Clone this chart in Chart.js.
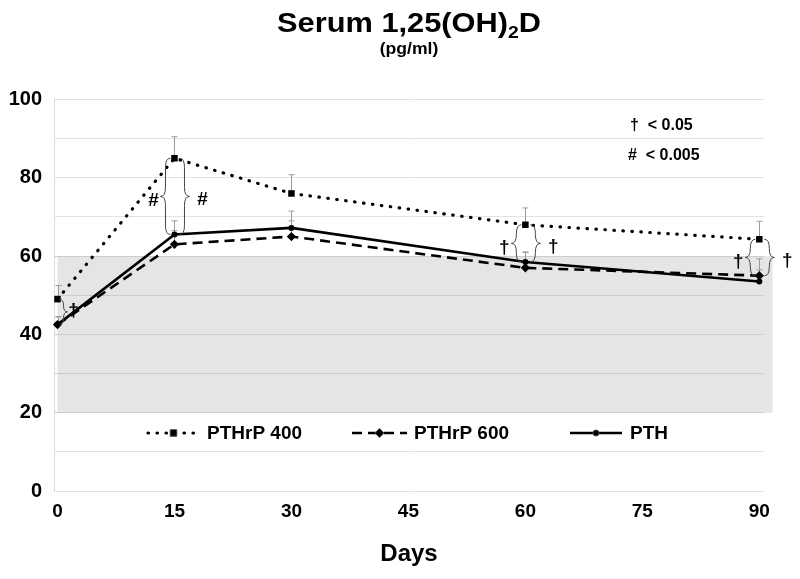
<!DOCTYPE html>
<html><head><meta charset="utf-8">
<script src="https://cdn.jsdelivr.net/npm/chart.js@4.4.1/dist/chart.umd.min.js"></script>
<style>html,body{margin:0;padding:0;background:#fff}canvas{display:block}</style>
</head><body>
<canvas id="c" width="800" height="579"></canvas>
<script>
// ---- data ----
const days = [0, 15, 30, 60, 90];
const pthrp400 = [49, 85, 76, 68, 64.3];
const pthrp600 = [42.5, 63, 65, 57, 55];
const pth = [42.5, 65.5, 67.2, 58.5, 53.5];
const err400 = [3.5, 5.5, 4.8, 4.3, 4.6];
const err600 = [2, 3.5, 4, 4, 4.3];
const errPth = [2, 3.5, 4.3, 2.5, 3];
const xTicks = [0, 15, 30, 45, 60, 75, 90];
const yTicks = [0, 10, 20, 30, 40, 50, 60, 70, 80, 90, 100];
const refRange = [20, 60];
const refDays = [0, 91.7];
const seriesNames = ['PTHrP 400', 'PTHrP 600', 'PTH'];
const sigDays = [0, 15, 60, 90];
const sigSymbols = ['†', '#', '†', '†'];
const sigLowerSeries = ['PTH', 'PTH', 'PTH', 'PTHrP 600'];
const pLabels = ['†  < 0.05', '#  < 0.005'];

const FONT = "'Liberation Sans', Arial, Helvetica, sans-serif";
const seriesValues = {'PTHrP 400': pthrp400, 'PTHrP 600': pthrp600, 'PTH': pth};
const seriesErr = {'PTHrP 400': err400, 'PTHrP 600': err600, 'PTH': errPth};
const toXY = arr => days.map((d, i) => ({x: d, y: arr[i]}));

const styles = {
  'PTHrP 400': {dash: [0.5, 8.5], width: 3.2, cap: 'round', point: 'rect', r: 4.6},
  'PTHrP 600': {dash: [10, 6], width: 2.6, cap: 'butt', point: 'rectRot', r: 4.6},
  'PTH': {dash: [], width: 2.6, cap: 'butt', point: 'circle', r: 3}
};

function brace(ctx, x, y1, y2, dir, w) {
  const ym = (y1 + y2) / 2, r = Math.min(w * 0.9, (y2 - y1) / 4);
  ctx.beginPath();
  ctx.moveTo(x - dir * w / 2, y1);
  ctx.quadraticCurveTo(x, y1, x, y1 + r);
  ctx.lineTo(x, ym - r);
  ctx.quadraticCurveTo(x, ym, x + dir * w / 2, ym);
  ctx.quadraticCurveTo(x, ym, x, ym + r);
  ctx.lineTo(x, y2 - r);
  ctx.quadraticCurveTo(x, y2, x - dir * w / 2, y2);
  ctx.stroke();
}

const extras = {
  id: 'extras',
  beforeDraw(chart) {
    const {ctx, scales: {x, y}} = chart;
    ctx.save();
    ctx.fillStyle = '#e5e5e5';
    const l = x.getPixelForValue(refDays[0]), r = x.getPixelForValue(refDays[1]);
    const t = y.getPixelForValue(refRange[1]), b = y.getPixelForValue(refRange[0]);
    ctx.fillRect(l, t, r - l, b - t);
    ctx.restore();
  },
  beforeDatasetsDraw(chart) {
    const {ctx, scales: {x, y}} = chart;
    ctx.save();
    ctx.strokeStyle = '#9a9a9a';
    ctx.lineWidth = 1;
    seriesNames.forEach(n => {
      days.forEach((d, i) => {
        const px = Math.round(x.getPixelForValue(d)) + 0.5;
        const y0 = y.getPixelForValue(seriesValues[n][i]);
        const y1 = y.getPixelForValue(seriesValues[n][i] + seriesErr[n][i]);
        ctx.beginPath();
        ctx.moveTo(px, y0); ctx.lineTo(px, y1);
        ctx.moveTo(px - 3, y1); ctx.lineTo(px + 3, y1);
        ctx.stroke();
      });
    });
    ctx.restore();
  },
  afterDraw(chart) {
    const {ctx, chartArea: ca, scales: {x, y}} = chart;
    ctx.save();
    // title
    const cx = (ca.left + ca.right) / 2;
    ctx.fillStyle = '#000';
    ctx.textBaseline = 'alphabetic';
    const big = 'bold 27px ' + FONT, small = 'bold 17px ' + FONT;
    ctx.font = big;
    const t1 = 'Serum 1,25(OH)', t3 = 'D';
    const w1 = ctx.measureText(t1).width, w3 = ctx.measureText(t3).width;
    ctx.font = small;
    const w2 = ctx.measureText('2').width;
    const sx = 1.14;
    const tw = (w1 + w2 + w3) * sx;
    ctx.save();
    ctx.translate(cx - tw / 2, 32);
    ctx.scale(sx, 1);
    ctx.font = big;
    ctx.textAlign = 'left';
    ctx.fillText(t1, 0, 0);
    ctx.font = small;
    ctx.fillText('2', w1, 6);
    ctx.font = big;
    ctx.fillText(t3, w1 + w2, 0);
    ctx.restore();
    ctx.save();
    ctx.translate(cx, 54);
    ctx.scale(1.1, 1);
    ctx.font = 'bold 16px ' + FONT;
    ctx.textAlign = 'center';
    ctx.fillText('(pg/ml)', 0, 0);
    ctx.restore();

    // p-value key
    ctx.font = 'bold 16px ' + FONT;
    ctx.textAlign = 'left';
    ctx.textBaseline = 'middle';
    ctx.fillText(pLabels[0], ca.right - 134, 126);
    ctx.fillText(pLabels[1], ca.right - 136, 156);

    // significance braces
    ctx.strokeStyle = '#444';
    ctx.lineWidth = 1;
    sigDays.forEach((d, k) => {
      const i = days.indexOf(d);
      const px = x.getPixelForValue(d);
      const yt = y.getPixelForValue(pthrp400[i]);
      const yb = y.getPixelForValue(seriesValues[sigLowerSeries[k]][i]);
      const ym = (yt + yb) / 2;
      ctx.font = 'bold 19px ' + FONT;
      ctx.textAlign = 'center';
      if (d === 0) {
        brace(ctx, px + 6, yt, yb, 1, 8);
        ctx.fillText(sigSymbols[k], px + 16, ym - 1);
      } else {
        brace(ctx, px - 9, yt, yb, -1, 10);
        brace(ctx, px + 10, yt, yb, 1, 10);
        ctx.fillText(sigSymbols[k], px - 21, ym + 4);
        ctx.fillText(sigSymbols[k], px + 28, ym + 3);
      }
    });

    // legend
    const ly = ca.bottom - 58;
    const items = [
      {n: 'PTHrP 400', x0: ca.left + 94, x1: ca.left + 145, tx: ca.left + 153},
      {n: 'PTHrP 600', x0: ca.left + 298, x1: ca.left + 353, tx: ca.left + 360},
      {n: 'PTH', x0: ca.left + 516, x1: ca.left + 568, tx: ca.left + 576}
    ];
    items.forEach(it => {
      const s = styles[it.n];
      ctx.save();
      ctx.strokeStyle = '#000';
      ctx.lineWidth = s.width;
      ctx.lineCap = s.cap;
      ctx.setLineDash(s.dash);
      ctx.beginPath();
      ctx.moveTo(it.x0, ly); ctx.lineTo(it.x1, ly);
      ctx.stroke();
      ctx.restore();
      ctx.fillStyle = '#000';
      Chart.helpers.drawPoint(ctx, {pointStyle: s.point, radius: s.r, borderWidth: 1}, (it.x0 + it.x1) / 2, ly);
      ctx.font = 'bold 19px ' + FONT;
      ctx.textAlign = 'left';
      ctx.textBaseline = 'middle';
      ctx.fillText(it.n, it.tx, ly + 1);
    });
    ctx.restore();
  }
};

const datasets = seriesNames.map(n => {
  const s = styles[n];
  return {
    label: n,
    data: toXY(seriesValues[n]),
    borderColor: '#000',
    backgroundColor: '#000',
    borderWidth: s.width,
    borderDash: s.dash,
    borderCapStyle: s.cap,
    pointStyle: s.point,
    pointRadius: s.r,
    pointBorderWidth: 0,
    pointBackgroundColor: '#000',
    tension: 0,
    clip: false
  };
});

new Chart(document.getElementById('c'), {
  type: 'line',
  data: {datasets},
  options: {
    responsive: false,
    animation: false,
    devicePixelRatio: 1,
    layout: {padding: {top: 99.5, right: 36, left: 0, bottom: 0}},
    plugins: {legend: {display: false}, tooltip: {enabled: false}, title: {display: false}},
    scales: {
      x: {
        type: 'linear', min: -0.45, max: 90.6,
        afterBuildTicks: s => { s.ticks = xTicks.map(v => ({value: v})); },
        afterFit: s => { s.height = 88; },
        grid: {display: false, drawTicks: false},
        border: {display: false},
        ticks: {color: '#000', font: {family: FONT, size: 19, weight: 'bold'}, padding: 9, autoSkip: false, maxRotation: 0},
        title: {display: true, text: 'Days', color: '#000', font: {family: FONT, size: 24, weight: 'bold'}, padding: {top: 0, bottom: 10}}
      },
      y: {
        min: 0, max: 100,
        afterBuildTicks: s => { s.ticks = yTicks.map(v => ({value: v})); },
        afterFit: s => { s.width = 54; },
        grid: {drawTicks: false, color: c => (c.tick && c.tick.value >= refRange[0] && c.tick.value <= refRange[1] && c.tick.value > 0) ? '#cdcdcd' : '#e2e2e2'},
        border: {color: '#dadada'},
        ticks: {color: '#000', font: {family: FONT, size: 20, weight: 'bold'}, padding: 12, autoSkip: false,
          callback: v => (v % 20 === 0 ? String(v) : '')}
      }
    }
  },
  plugins: [extras]
});
</script>
</body></html>
